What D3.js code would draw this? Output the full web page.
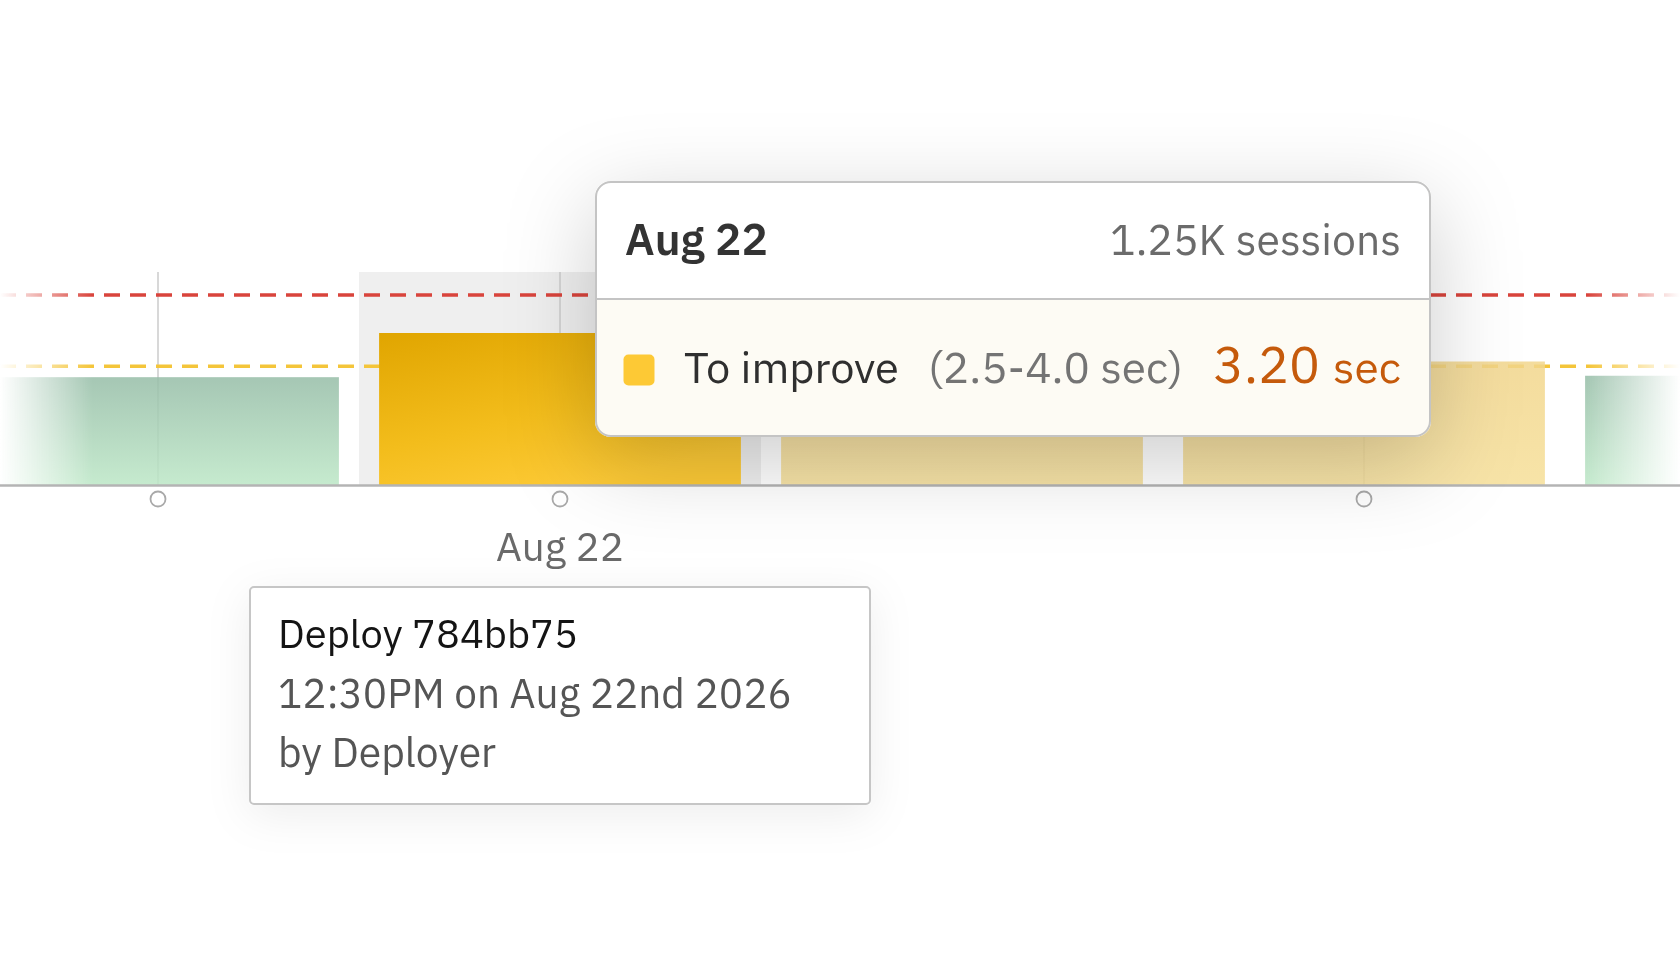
<!DOCTYPE html>
<html>
<head>
<meta charset="utf-8">
<script src="https://cdn.jsdelivr.net/npm/d3@7"></script>
<style>
html,body{margin:0;padding:0;background:#fff;overflow:hidden}
svg{display:block}
</style>
</head>
<body>
<svg id="chart" width="1680" height="955"></svg>
<script>
// ---------- data ----------
const categories = ["Aug 21", "Aug 22", "Aug 23", "Aug 24", "Aug 25"];
const loadSeconds = [2.27, 3.20, 2.90, 2.60, 2.30];
const statuses = ["good", "improve", "improve", "improve", "good"];
const thresholds = [2.5, 4.0];          // "to improve" starts, "poor" starts
const thresholdColors = ["#f4c53a", "#d9443c"];
const deployDates = ["Aug 21", "Aug 22", "Aug 24"];
const axisLabels = ["Aug 22"];
const hovered = "Aug 22";
const tooltipTitle = "Aug 22";
const tooltipSessions = "1.25K sessions";
const tooltipSeries = "To improve";
const tooltipRange = "(2.5-4.0 sec)";
const tooltipValue = "3.20";
const tooltipUnit = "sec";
const deployLines = ["Deploy 784bb75", "12:30PM on Aug 22nd 2026", "by Deployer"];

// ---------- setup ----------
const W = 1680, H = 955;
const FONT = "'IBM Plex Sans', Inter, 'Noto Sans', sans-serif";
const svg = d3.select("#chart");
const defs = svg.append("defs");

const x = d3.scaleBand().domain(categories).range([-43, 1967]).paddingInner(0.1).paddingOuter(0.05);
const y = d3.scaleLinear().domain([0, 4]).range([485, 295]);
const plotTop = 272;

// gradients
function lg(id, x1, y1, x2, y2, stops) {
  const g = defs.append("linearGradient").attr("id", id)
    .attr("x1", x1).attr("y1", y1).attr("x2", x2).attr("y2", y2);
  stops.forEach(s => g.append("stop").attr("offset", s[0]).attr("stop-color", s[1]));
}
lg("gGood", 0, 0, 0, 1, [[0, "#96bda7"], [1, "#bce7c6"]]);
lg("gImprove", 0, 0, 0, 1, [[0, "#f2d68c"], [1, "#f6df98"]]);
lg("gHover", 0, 0, 0.55, 1, [[0, "#e0a500"], [0.6, "#f3bd1c"], [1, "#fdca36"]]);

// edge fade mask
lg("gFade", 0, 0, 1, 0, [[0, "#000"], [0.055, "#fff"], [0.945, "#fff"], [1, "#000"]]);
defs.append("mask").attr("id", "fade").attr("maskUnits", "userSpaceOnUse")
  .attr("x", 0).attr("y", 0).attr("width", W).attr("height", H)
  .append("rect").attr("width", W).attr("height", H).attr("fill", "url(#gFade)");

// shadows
const sh = defs.append("filter").attr("id", "shadow")
  .attr("x", "-40%").attr("y", "-80%").attr("width", "180%").attr("height", "260%");
sh.append("feDropShadow").attr("dx", 0).attr("dy", 24).attr("stdDeviation", 44)
  .attr("flood-color", "#000").attr("flood-opacity", 0.2);
const sh2 = defs.append("filter").attr("id", "shadow2")
  .attr("x", "-40%").attr("y", "-60%").attr("width", "180%").attr("height", "220%");
sh2.append("feDropShadow").attr("dx", 0).attr("dy", 10).attr("stdDeviation", 22)
  .attr("flood-color", "#000").attr("flood-opacity", 0.07);

// ---------- chart ----------
const chart = svg.append("g").attr("mask", "url(#fade)");

// hover band
chart.append("rect")
  .attr("x", x(hovered) - x.step() * x.paddingInner() / 2)
  .attr("y", plotTop)
  .attr("width", x.step())
  .attr("height", y(0) - plotTop)
  .attr("fill", "#efefef");

// deploy lines
chart.selectAll("line.deploy").data(deployDates).join("line")
  .attr("class", "deploy")
  .attr("x1", d => x(d) + x.bandwidth() / 2).attr("x2", d => x(d) + x.bandwidth() / 2)
  .attr("y1", plotTop).attr("y2", y(0))
  .attr("stroke", "#cfcfcf").attr("stroke-width", 1.6);

// threshold lines
chart.selectAll("line.thr").data(thresholds).join("line")
  .attr("class", "thr")
  .attr("x1", 0).attr("x2", W)
  .attr("y1", d => y(d)).attr("y2", d => y(d))
  .attr("stroke", (d, i) => thresholdColors[i])
  .attr("stroke-width", 3.4)
  .attr("stroke-dasharray", "16 10");

// bars
chart.selectAll("rect.bar").data(categories).join("rect")
  .attr("class", "bar")
  .attr("x", d => x(d))
  .attr("width", x.bandwidth())
  .attr("y", (d, i) => y(loadSeconds[i]))
  .attr("height", (d, i) => y(0) - y(loadSeconds[i]))
  .attr("fill", (d, i) => d === hovered ? "url(#gHover)" : (statuses[i] === "good" ? "url(#gGood)" : "url(#gImprove)"))
  .attr("opacity", d => d === hovered ? 1 : 0.85);

// x axis (baseline + label)
const axis = svg.append("g").attr("transform", `translate(0,${y(0)})`)
  .call(d3.axisBottom(x).tickValues(axisLabels).tickSize(0).tickSizeOuter(0));
axis.select(".domain").attr("stroke", "#b4b4b4").attr("stroke-width", 2.4);
axis.selectAll(".tick text")
  .attr("y", 76).attr("dy", 0)
  .attr("fill", "#6a6a6a")
  .attr("font-family", FONT)
  .attr("font-size", 34);

// deploy markers
svg.selectAll("circle.mk").data(deployDates).join("circle")
  .attr("class", "mk")
  .attr("cx", d => x(d) + x.bandwidth() / 2)
  .attr("cy", y(0) + 14)
  .attr("r", 7.5)
  .attr("fill", "#fff").attr("stroke", "#a9a9a9").attr("stroke-width", 1.8);

// ---------- text fitting helper ----------
function fit(sel, w) {
  const l = sel.node().getComputedTextLength();
  if (l > 0) sel.attr("font-size", parseFloat(sel.attr("font-size")) * w / l);
  return sel;
}
fit(axis.select(".tick text"), 128);

// ---------- deploy tooltip ----------
const dt = svg.append("g").attr("transform", "translate(249,586)");
dt.append("rect").attr("width", 622).attr("height", 219).attr("rx", 4)
  .attr("fill", "#fff").attr("filter", "url(#shadow2)");
dt.append("rect").attr("x", 1).attr("y", 1).attr("width", 620).attr("height", 217).attr("rx", 4)
  .attr("fill", "none").attr("stroke", "#c6c6c6").attr("stroke-width", 2);
const dWidths = [300, 514, 218];
const dBase = [62, 122, 181];
deployLines.forEach((t, i) => {
  const s = dt.append("text").attr("x", 29).attr("y", dBase[i]).text(t)
    .attr("font-family", FONT).attr("font-size", 33)
    .attr("fill", i === 0 ? "#141414" : "#555");
  fit(s, dWidths[i]);
});

// ---------- main tooltip ----------
const tw = 836, th = 256, hh = 118;
const tt = svg.append("g").attr("transform", "translate(595,181)");
defs.append("clipPath").attr("id", "ttClip")
  .append("rect").attr("width", tw).attr("height", th).attr("rx", 16);
tt.append("rect").attr("width", tw).attr("height", th).attr("rx", 16)
  .attr("fill", "#fdfbf4").attr("filter", "url(#shadow)");
tt.append("rect").attr("width", tw).attr("height", hh)
  .attr("fill", "#fff").attr("clip-path", "url(#ttClip)");
tt.append("line").attr("x1", 0).attr("x2", tw).attr("y1", hh).attr("y2", hh)
  .attr("stroke", "#c4c4c4").attr("stroke-width", 2);
tt.append("rect").attr("x", 1).attr("y", 1).attr("width", tw - 2).attr("height", th - 2).attr("rx", 15)
  .attr("fill", "none").attr("stroke", "#c4c4c4").attr("stroke-width", 2);

fit(tt.append("text").attr("x", 30).attr("y", 74).text(tooltipTitle)
  .attr("font-family", FONT).attr("font-weight", 600).attr("font-size", 42).attr("fill", "#333"), 143);
fit(tt.append("text").attr("x", 806).attr("y", 74).attr("text-anchor", "end").text(tooltipSessions)
  .attr("font-family", FONT).attr("font-size", 42).attr("fill", "#6b6b6b"), 291);

tt.append("rect").attr("x", 28.5).attr("y", 173.5).attr("width", 31).attr("height", 31).attr("rx", 5)
  .attr("fill", "#fdc935");
fit(tt.append("text").attr("x", 89).attr("y", 202).text(tooltipSeries)
  .attr("font-family", FONT).attr("font-size", 42).attr("fill", "#2f2f2f"), 215);
fit(tt.append("text").attr("x", 333).attr("y", 202).text(tooltipRange)
  .attr("font-family", FONT).attr("font-size", 42).attr("fill", "#747474"), 255);
fit(tt.append("text").attr("x", 618).attr("y", 202).text(tooltipValue)
  .attr("font-family", FONT).attr("font-size", 54).attr("fill", "#c55a0b"), 107);
fit(tt.append("text").attr("x", 806).attr("y", 202).attr("text-anchor", "end").text(tooltipUnit)
  .attr("font-family", FONT).attr("font-size", 38).attr("fill", "#c55a0b"), 68);
</script>
</body>
</html>
